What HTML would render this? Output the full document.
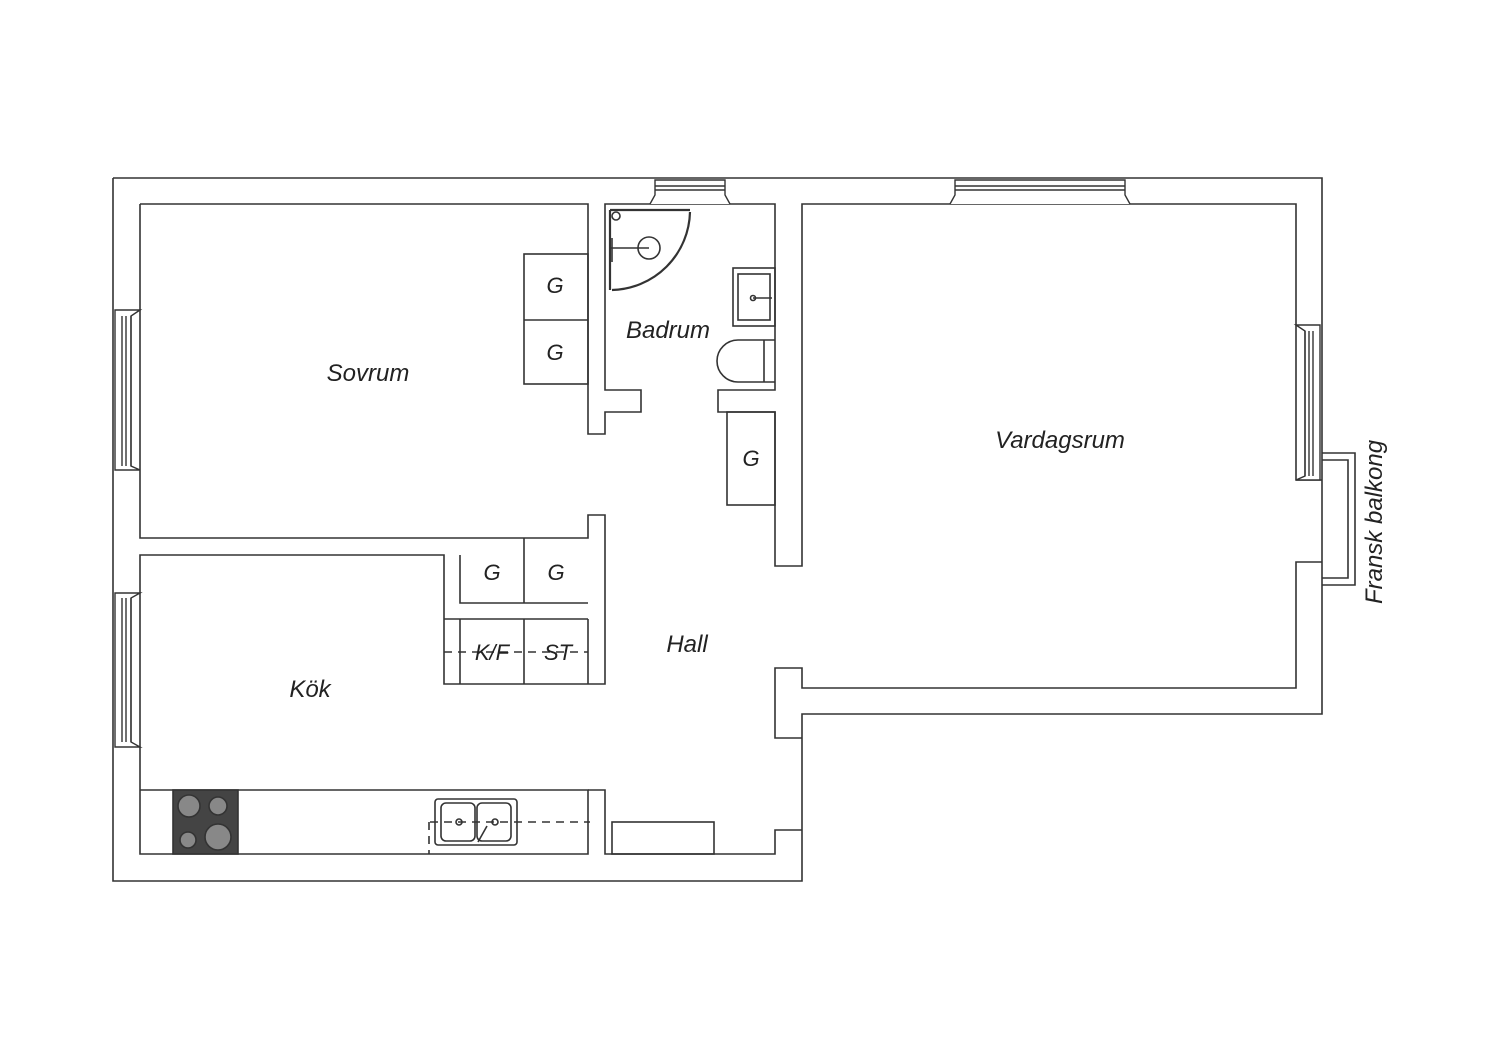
<!DOCTYPE html>
<html><head><meta charset="utf-8"><style>
html,body{margin:0;padding:0;background:#fff;}
svg{display:block}
text{font-family:"Liberation Sans",sans-serif;font-style:italic;fill:#222;}
</style></head><body>
<svg width="1500" height="1060" viewBox="0 0 1500 1060" xmlns="http://www.w3.org/2000/svg">
<g fill="none" stroke="#333" stroke-width="1.6">
<!-- outer boundary -->
<path d="M113,178 H1322 V453"/>
<path d="M1322,585 V714 H802 V881 H113 V178"/>
<path d="M1322,453 V585"/>
<!-- rooms -->
<path d="M140,204 H588 V434 H605 V412 H641 V390 H605 V204 H775 V390 H718 V412 H775 V566 H802 V204 H1296 V480 H1322"/>
<path d="M1322,562 H1296 V688 H802 V668 H775 V738 H802"/>
<path d="M140,204 V538 H588 V515 H605 V684 H444 V555 H140 V854 H588 V790 H140"/>
<path d="M588,790 H605 V854 H775 V830 H802"/>
<!-- closets -->
<path d="M460,555 V603 H588 M524,538 V603"/>
<path d="M444,619 H588 M460,619 V684 M524,619 V684 M588,619 V684"/>
<rect x="524" y="254" width="64" height="130"/>
<path d="M524,320 H588"/>
<rect x="727" y="412" width="48" height="93"/>
<rect x="612" y="822" width="102" height="32"/>
<!-- balcony -->
<path d="M1322,453 H1355 V585 H1322 M1322,460 H1348 V578 H1322"/>
<!-- bathroom -->
<path d="M610,210 H690 M610,210 V290 M690,212 A80,80 0 0 1 612,290" stroke-width="2.2"/>
<circle cx="616" cy="216" r="4"/>
<circle cx="649" cy="248" r="11"/>
<path d="M610,248 H649 M612,238 V262"/>
<rect x="733" y="268" width="42" height="58"/>
<rect x="738" y="274" width="32" height="46"/>
<path d="M753,298 H772"/>
<circle cx="753" cy="298" r="2.5"/>
<path d="M775,340 H738 A20,20 0 0 0 738,382 H775 M764,340 V382"/>
<!-- kitchen counter -->
<rect x="173" y="790" width="65" height="64" fill="#444"/>
<circle cx="189" cy="806" r="11" fill="#888"/><circle cx="218" cy="806" r="9" fill="#888"/>
<circle cx="188" cy="840" r="8" fill="#888"/><circle cx="218" cy="837" r="13" fill="#888"/>
<rect x="435" y="799" width="82" height="46" rx="3"/>
<rect x="441" y="803" width="34" height="38" rx="5"/><rect x="477" y="803" width="34" height="38" rx="5"/>
<circle cx="459" cy="822" r="3"/><circle cx="495" cy="822" r="3"/>
<path d="M478,842 L487,826"/>
<path d="M430,822 H590 M429,822 V854" stroke-dasharray="8,6"/>
<path d="M444,652 H588" stroke-dasharray="8,6"/>
</g>
<!-- windows -->
<g fill="#fff" stroke="#333" stroke-width="1.4">
<path d="M650,204 L655,195 V180 H725 V195 L730,204"/>
<path d="M655,186 H725 M655,190 H725" fill="none"/>
<path d="M950,204 L955,195 V180 H1125 V195 L1130,204"/>
<path d="M955,186 H1125 M955,190 H1125" fill="none"/>
<path d="M140,310 L131,316 V466 L140,470 H115 V310 Z"/>
<path d="M122,316 V466 M126,316 V466 M131,316 V466" fill="none"/>
<path d="M140,593 L131,598 V742 L140,747 H115 V593 Z"/>
<path d="M122,598 V742 M126,598 V742 M131,598 V742" fill="none"/>
<path d="M1296,325 L1305,331 V476 L1296,480 H1320 V325 Z"/>
<path d="M1305,331 V476 M1309,331 V476 M1313,331 V476" fill="none"/>
</g>
<g font-size="24">
<text x="368" y="381" text-anchor="middle">Sovrum</text>
<text x="668" y="338" text-anchor="middle">Badrum</text>
<text x="1060" y="448" text-anchor="middle">Vardagsrum</text>
<text x="687" y="652" text-anchor="middle">Hall</text>
<text x="310" y="697" text-anchor="middle">Kök</text>
<text x="1382" y="522" text-anchor="middle" transform="rotate(-90 1382 522)">Fransk balkong</text>
</g>
<g font-size="22" text-anchor="middle">
<text x="555" y="293">G</text><text x="555" y="360">G</text>
<text x="751" y="466">G</text>
<text x="492" y="580">G</text><text x="556" y="580">G</text>
<text x="492" y="660">K/F</text><text x="558" y="660">ST</text>
</g>
</svg>
</body></html>
